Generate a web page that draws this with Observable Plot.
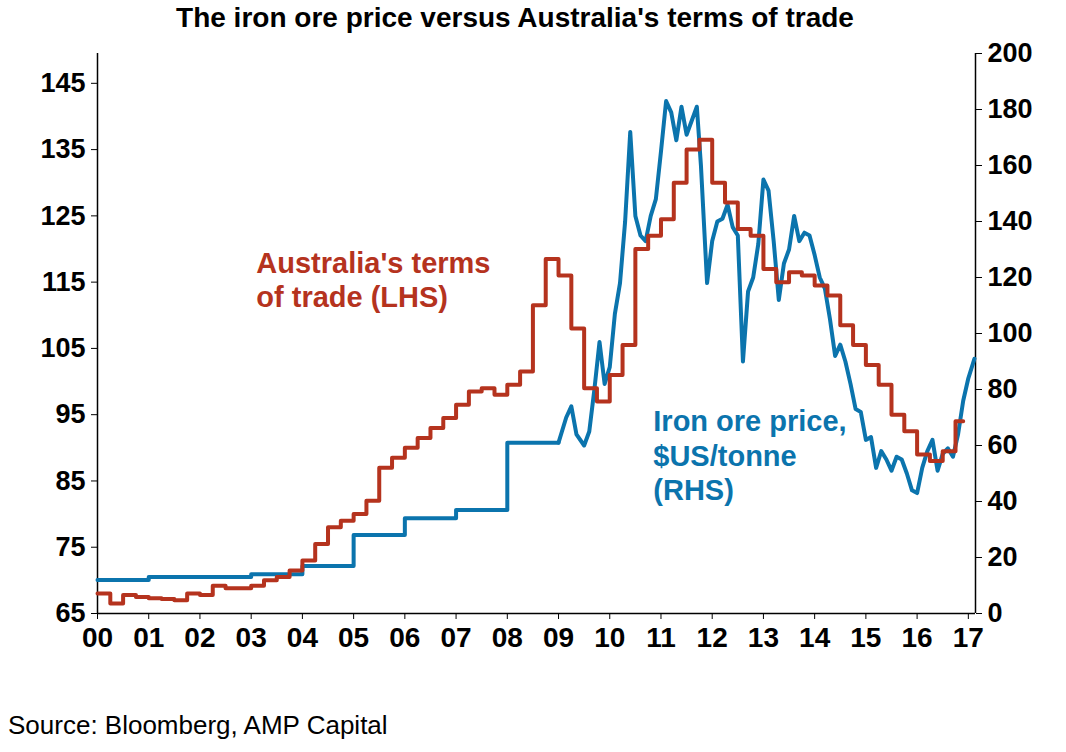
<!DOCTYPE html>
<html><head><meta charset="utf-8">
<script src="https://cdn.jsdelivr.net/npm/d3@7"></script>
<script src="https://cdn.jsdelivr.net/npm/@observablehq/plot@0.6"></script>
<style>
body{margin:0;background:#fff;font-family:"Liberation Sans",Arial,sans-serif;}
#title{height:40px;line-height:36px;font-weight:bold;font-size:28px;text-align:center;width:1030px;}
#src{font-size:26px;margin-left:8px;margin-top:10px;}
</style></head><body>
<div id="title">The iron ore price versus Australia's terms of trade</div>
<div id="chart"></div>
<div id="src">Source: Bloomberg, AMP Capital</div>
<script>
const totYears = [2000,2000.25,2000.5,2000.75,2001,2001.25,2001.5,2001.75,2002,2002.25,2002.5,2002.75,2003,2003.25,2003.5,2003.75,2004,2004.25,2004.5,2004.75,2005,2005.25,2005.5,2005.75,2006,2006.25,2006.5,2006.75,2007,2007.25,2007.5,2007.75,2008,2008.25,2008.5,2008.75,2009,2009.25,2009.5,2009.75,2010,2010.25,2010.5,2010.75,2011,2011.25,2011.5,2011.75,2012,2012.25,2012.5,2012.75,2013,2013.25,2013.5,2013.75,2014,2014.25,2014.5,2014.75,2015,2015.25,2015.5,2015.75,2016,2016.25,2016.5,2016.75,2016.9];
const totValues = [68,66.5,67.8,67.5,67.3,67.2,67,68,67.8,69.2,68.8,68.8,69.2,70,70.5,71.5,73,75.5,78,79,80,82,87,88.5,90,91.5,93,94.5,96.5,98.5,99,98,99.5,101.5,111.5,118.5,116,108,99,97,101,105.5,120,122,124.5,130,135,136.5,130,127,123,122,117,115,116.5,116,114.5,113,108.5,105.5,102.5,99.5,95,92.5,89,88,89.5,94,94];
const contractYears = [2000,2001,2003,2004,2005,2006,2007,2008,2009];
const contractValues = [12,13,14,17,28,34,37,61,61];
const spotYears = [2009,2009.15,2009.25,2009.35,2009.5,2009.6,2009.7,2009.8,2009.9,2010,2010.1,2010.2,2010.3,2010.4,2010.5,2010.6,2010.7,2010.8,2010.9,2011,2011.1,2011.2,2011.3,2011.4,2011.5,2011.6,2011.7,2011.78,2011.9,2012,2012.1,2012.2,2012.3,2012.4,2012.5,2012.6,2012.7,2012.8,2012.9,2013,2013.1,2013.2,2013.3,2013.4,2013.5,2013.6,2013.7,2013.8,2013.9,2014,2014.1,2014.2,2014.3,2014.4,2014.5,2014.6,2014.7,2014.8,2014.9,2015,2015.1,2015.2,2015.3,2015.4,2015.5,2015.6,2015.7,2015.8,2015.9,2016,2016.1,2016.2,2016.3,2016.4,2016.5,2016.6,2016.7,2016.8,2016.9,2017,2017.12];
const spotValues = [61,70,74,64,60,65,80,97,82,88,107,118,140,172,142,135,133,142,148,165,183,179,169,181,171,176,181,160,118,133,140,141,146,138,135,90,115,120,132,155,151,133,112,125,130,142,133,136,135,128,120,116,105,92,96,90,82,73,72,62,63,52,58,55,51,56,55,50,44,43,52,58,62,51,57,59,56,64,76,84,91];
const leftTicks = [65,75,85,95,105,115,125,135,145];
const rightTicks = [0,20,40,60,80,100,120,140,160,180,200];
const yearTicks = d3.range(2000,2018);

const L0=65, L1=149.5, R1=200;
const toLeft = v => L0 + v*(L1-L0)/R1;
const red="#B5331E", blue="#0B74AD";
const tot = totYears.map((x,i)=>({x,y:totValues[i]}));
const contract = contractYears.map((x,i)=>({x,y:toLeft(contractValues[i])}));
const spot = spotYears.map((x,i)=>({x,y:toLeft(spotValues[i])}));
const fs = {fontSize:27, fontWeight:"bold", label:null};

const chart = Plot.plot({
  width:1066, height:660, marginLeft:97, marginRight:91, marginTop:13, marginBottom:87,
  style:{fontFamily:"Liberation Sans, Arial, sans-serif", color:"#000", overflow:"visible"},
  x:{domain:[2000,2017.14]},
  y:{domain:[L0,L1]},
  marks:[
    Plot.axisY({ticks:leftTicks, tickFormat:d=>d, tickSize:6, tickPadding:6, ...fs}),
    Plot.axisY({anchor:"right", ticks:rightTicks.map(toLeft), tickFormat:(d,i)=>rightTicks[i], tickSize:6, tickPadding:6, ...fs}),
    Plot.axisX({ticks:yearTicks, tickFormat:d=>String(d%100).padStart(2,"0"), tickSize:6, tickPadding:8, ...fs, fontSize:28}),
    Plot.ruleX([2000,2017.14],{stroke:"#000",strokeWidth:1.5}),
    Plot.ruleY([L0],{stroke:"#000",strokeWidth:1.5}),
    Plot.line(contract,{x:"x",y:"y",curve:"step-after",stroke:blue,strokeWidth:4}),
    Plot.line(spot,{x:"x",y:"y",stroke:blue,strokeWidth:4}),
    Plot.line(tot,{x:"x",y:"y",curve:"step-after",stroke:red,strokeWidth:4}),
    Plot.text([{x:2003.1,y:115.5,t:"Australia's terms\nof trade (LHS)"}],{x:"x",y:"y",text:"t",textAnchor:"start",fill:red,fontSize:29,fontWeight:"bold",lineHeight:1.2}),
    Plot.text([{x:2010.85,y:89,t:"Iron ore price,\n$US/tonne\n(RHS)"}],{x:"x",y:"y",text:"t",textAnchor:"start",fill:blue,fontSize:29,fontWeight:"bold",lineHeight:1.2})
  ]
});
document.getElementById("chart").append(chart);
</script></body></html>
